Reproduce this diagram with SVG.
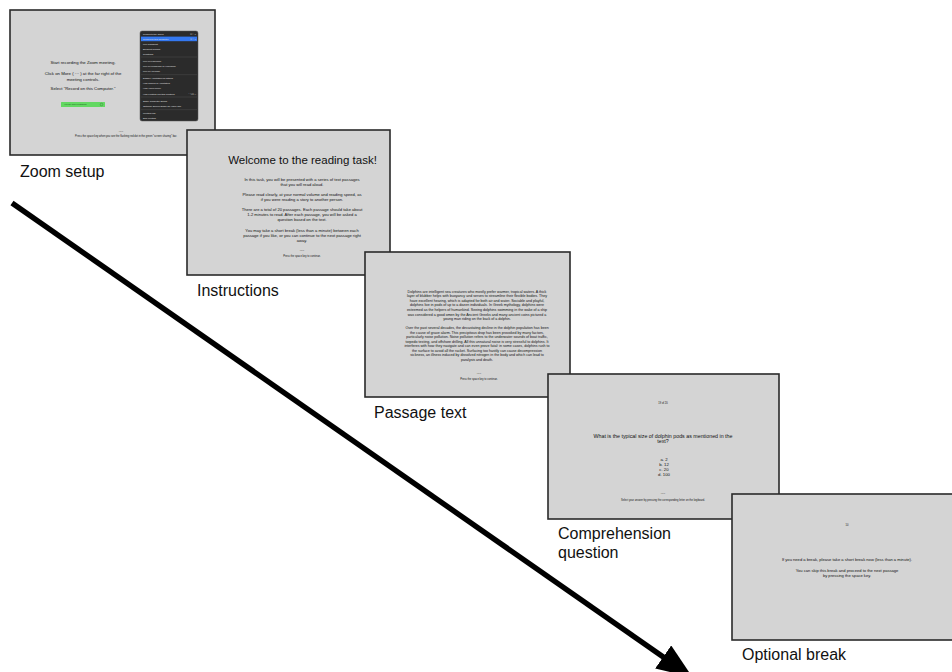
<svg xmlns="http://www.w3.org/2000/svg" width="952" height="672" viewBox="0 0 952 672">
<defs>
<style>
.scr{fill:#d4d4d4;stroke:#2a2a2a;stroke-width:1.6}
.t{font-family:"Liberation Sans",Arial,Helvetica,sans-serif;fill:#111;text-anchor:middle}
.lbl{font-family:"Liberation Sans",Arial,Helvetica,sans-serif;fill:#111;font-size:16px}
.mi{font-family:"Liberation Sans",Arial,sans-serif;font-size:2.3px;fill:#e0e0e0}
.ms{font-family:"Liberation Sans",Arial,sans-serif;font-size:2.1px;fill:#c8c8c8;text-anchor:end}
.sep{stroke:#555;stroke-width:0.4}
.s26{font-size:2.6px}
</style>
<marker id="ah" markerUnits="userSpaceOnUse" markerWidth="40" markerHeight="30" refX="1" refY="14" orient="auto">
<path d="M0,0 L36,14 L0,28 z" fill="#000"/>
</marker>
</defs>

<g id="connectors">
<line x1="12" y1="203" x2="664" y2="657.5" stroke="#000" stroke-width="5.4" marker-end="url(#ah)"/>
</g>

<g id="zoom-setup">
<rect class="scr" x="10" y="10" width="205" height="145"/>
<g class="t" font-size="4.3">
<text x="83" y="63.5">Start recording the Zoom meeting.</text>
<text x="83" y="74.5">Click on More ( ··· ) at the far right of the</text>
<text x="83" y="80.5">meeting controls.</text>
<text x="83" y="89.5">Select "Record on this Computer."</text>
</g>
<rect x="61" y="102" width="44" height="5" rx="0.6" fill="#63d862"/>
<text x="64" y="105.3" font-family="Liberation Sans, Arial, sans-serif" font-size="2.2" fill="#1f4f1f">You are screen sharing</text>
<circle cx="101.5" cy="104.5" r="1.3" fill="none" stroke="#2f6f2f" stroke-width="0.4"/>
<rect x="140" y="31" width="58" height="90" rx="2" fill="#2b2b2b" stroke="#5a5a5a" stroke-width="0.5"/>
<rect x="141" y="36.6" width="56" height="4.6" fill="#3478f0"/>
<text class="mi" x="143" y="34.5">Record to the Cloud</text><text class="ms" x="196" y="34.5">⌘⇧C</text>
<text class="mi" x="143" y="39.8" fill="#fff">Record on this Computer</text><text class="ms" x="196" y="39.8" fill="#fff">⌘⇧R</text>
<text class="mi" x="143" y="44.5">Live Transcript</text>
<text class="mi" x="143" y="49.8">Breakout Rooms</text>
<text class="mi" x="143" y="54.8">Reactions</text>
<line class="sep" x1="141" y1="57" x2="197" y2="57"/>
<text class="mi" x="143" y="61.5">Live on Facebook</text>
<text class="mi" x="143" y="66.5">Live on Workplace by Facebook</text>
<text class="mi" x="143" y="71.5">Live on YouTube</text>
<line class="sep" x1="141" y1="74.7" x2="197" y2="74.7"/>
<text class="mi" x="143" y="78.8">Disable Annotation for Others</text>
<text class="mi" x="143" y="84.1">Hide Names of Annotators</text>
<text class="mi" x="143" y="89.1">Hide Video Panel</text>
<text class="mi" x="143" y="94.5">Hide Floating Meeting Controls</text><text class="ms" x="196" y="94.5">⌃⌥⌘H</text>
<line class="sep" x1="141" y1="97" x2="197" y2="97"/>
<text class="mi" x="143" y="101.5">Share Computer Sound</text>
<text class="mi" x="143" y="106.5">Optimize Screen Share for Video Clip</text>
<line class="sep" x1="141" y1="109.7" x2="197" y2="109.7"/>
<text class="mi" x="143" y="113.5">Meeting Info</text>
<text class="mi" x="143" y="118.5" fill="#e0483e">End Meeting</text>
<g class="t s26">
<text x="121" y="131.5">-----</text>
<text x="126" y="137">Press the space key when you see the flashing red dot in the green "screen sharing" bar.</text>
</g>
</g>
<text class="lbl" x="20" y="177">Zoom setup</text>

<g id="instructions">
<rect class="scr" x="187" y="130" width="203" height="145"/>
<text class="t" x="302.5" y="163.5" font-size="11.5">Welcome to the reading task!</text>
<g class="t" font-size="4.1">
<text x="302" y="180.5">In this task, you will be presented with a series of text passages</text>
<text x="302" y="185.5">that you will read aloud.</text>
<text x="302" y="195.5">Please read clearly, at your normal volume and reading speed, as</text>
<text x="302" y="200.5">if you were reading a story to another person.</text>
<text x="302" y="210.5">There are a total of 20 passages. Each passage should take about</text>
<text x="302" y="215.5">1-2 minutes to read. After each passage, you will be asked a</text>
<text x="302" y="220.5">question based on the text.</text>
<text x="302" y="231.5">You may take a short break (less than a minute) between each</text>
<text x="302" y="236.5">passage if you like, or you can continue to the next passage right</text>
<text x="302" y="241.5">away.</text>
</g>
<g class="t s26">
<text x="302" y="250.5">-----</text>
<text x="302" y="256.5">Press the space key to continue.</text>
</g>
</g>
<text class="lbl" x="197" y="296">Instructions</text>

<g id="passage-text">
<rect class="scr" x="365" y="252" width="205" height="145"/>
<g class="t" font-size="3.6">
<text x="477" y="292.6">Dolphins are intelligent sea creatures who mostly prefer warmer, tropical waters.  A thick</text>
<text x="477" y="297.2">layer of blubber helps with buoyancy and serves to streamline their flexible bodies.  They</text>
<text x="477" y="301.8">have excellent hearing, which is adapted for both air and water.  Sociable and playful,</text>
<text x="477" y="306.4">dolphins live in pods of up to a dozen individuals.  In Greek mythology, dolphins were</text>
<text x="477" y="311">esteemed as the helpers of humankind.  Seeing dolphins swimming in the wake of a ship</text>
<text x="477" y="315.6">was considered a good omen by the Ancient Greeks and many ancient coins pictured a</text>
<text x="477" y="320.2">young man riding on the back of a dolphin.</text>
<text x="477" y="329">Over the past several decades, the devastating decline in the dolphin population has been</text>
<text x="477" y="333.5">the cause of grave alarm.  This precipitous drop has been provoked by many factors,</text>
<text x="477" y="338">particularly noise pollution.  Noise pollution refers to the underwater sounds of boat traffic,</text>
<text x="477" y="342.5">torpedo testing, and offshore drilling.  All this unnatural noise is very stressful to dolphins.  It</text>
<text x="477" y="347">interferes with how they navigate and can even prove fatal: in some cases, dolphins rush to</text>
<text x="477" y="351.5">the surface to avoid all the racket.  Surfacing too hastily can cause decompression</text>
<text x="477" y="356">sickness, an illness induced by dissolved nitrogen in the body and which can lead to</text>
<text x="477" y="360.5">paralysis and death.</text>
</g>
<g class="t s26">
<text x="479" y="373.5">-----</text>
<text x="479" y="380.2">Press the space key to continue.</text>
</g>
</g>
<text class="lbl" x="374" y="418">Passage text</text>

<g id="comprehension-question">
<rect class="scr" x="548" y="374" width="231" height="145"/>
<text class="t s26" x="663" y="404">19 of 20</text>
<g class="t" font-size="5.3">
<text x="663" y="437.8">What is the typical size of dolphin pods as mentioned in the</text>
<text x="663" y="442.8">text?</text>
</g>
<g class="t" font-size="4.3">
<text x="664" y="461.2">a. 2</text>
<text x="664" y="466.2">b. 12</text>
<text x="664" y="471.4">c. 20</text>
<text x="664" y="476.4">d. 100</text>
</g>
<g class="t s26">
<text x="663" y="494">-----</text>
<text x="663" y="501">Select your answer by pressing the corresponding letter on the keyboard.</text>
</g>
</g>
<text class="lbl" x="558" y="539">Comprehension</text>
<text class="lbl" x="558" y="558">question</text>

<g id="optional-break">
<rect class="scr" x="732" y="494" width="232" height="146"/>
<text class="t s26" x="847" y="525.6">10</text>
<g class="t" font-size="4.1">
<text x="847" y="561.4">If you need a break, please take a short break now (less than a minute).</text>
<text x="847" y="572.3">You can skip this break and proceed to the next passage</text>
<text x="847" y="577">by pressing the space key.</text>
</g>
</g>
<text class="lbl" x="742" y="660">Optional break</text>
</svg>
